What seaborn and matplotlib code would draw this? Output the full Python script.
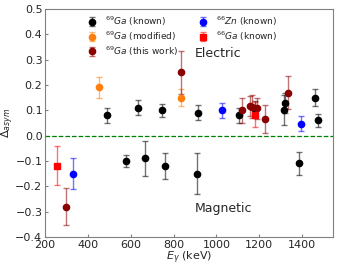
import matplotlib
matplotlib.use("Agg")
import matplotlib.pyplot as plt
import seaborn as sns

# 69Ga (known)
gaKnownE = [488, 633, 744, 912, 1107, 1180, 1316, 1321, 1460, 1474, 576, 668, 761, 911, 1386]
gaKnownA = [0.08, 0.11, 0.10, 0.09, 0.08, 0.106, 0.10, 0.13, 0.15, 0.06, -0.10, -0.09, -0.12, -0.15, -0.11]
gaKnownErr = [0.03, 0.03, 0.025, 0.03, 0.03, 0.03, 0.06, 0.04, 0.035, 0.025, 0.025, 0.07, 0.053, 0.08, 0.045]

# 69Ga (modified)
gaModE = [451, 833]
gaModA = [0.19, 0.15]
gaModErr = [0.04, 0.035]

# 69Ga (this work)
gaNewE = [298, 837, 1120, 1158, 1167, 1190, 1228, 1335]
gaNewA = [-0.28, 0.25, 0.10, 0.118, 0.114, 0.107, 0.067, 0.17]
gaNewErr = [0.072, 0.085, 0.05, 0.04, 0.045, 0.04, 0.055, 0.065]

# 66Zn (known)
znE = [332, 1028, 1395]
znA = [-0.15, 0.10, 0.047]
znErr = [0.06, 0.03, 0.03]

# 66Ga (known)
ga66E = [256, 1180]
ga66A = [-0.118, 0.082]
ga66Err = [0.077, 0.05]

sns.set_style("ticks")
plt.rcParams['font.family'] = ['DejaVu Sans']

fig = plt.figure(figsize=(3.37, 2.69), dpi=100)
ax = fig.add_axes([0.134, 0.119, 0.854, 0.848])

def plotSeries(x, y, err, color, marker, label):
    ax.errorbar(x, y, yerr=err, fmt=marker, color=color, ecolor=matplotlib.colors.to_rgba(color, 0.55),
                markersize=4.5, capsize=2.5, elinewidth=1, capthick=1, label=label, zorder=3)

plotSeries(gaKnownE, gaKnownA, gaKnownErr, 'black', 'o', r'$^{69}$$\it{Ga}$ (known)')
plotSeries(gaModE, gaModA, gaModErr, '#ff7f0e', 'o', r'$^{69}$$\it{Ga}$ (modified)')
plotSeries(gaNewE, gaNewA, gaNewErr, '#8b0000', 'o', r'$^{69}$$\it{Ga}$ (this work)')
plotSeries(znE, znA, znErr, 'blue', 'o', r'$^{66}$$\it{Zn}$ (known)')
plotSeries(ga66E, ga66A, ga66Err, 'red', 's', r'$^{66}$$\it{Ga}$ (known)')

ax.axhline(0, color='green', linestyle='--', linewidth=0.9)

ax.text(900, 0.31, 'Electric', fontsize=9)
ax.text(900, -0.30, 'Magnetic', fontsize=9)

ax.set_xlim(200, 1545)
ax.set_ylim(-0.4, 0.5)
ax.set_xticks([200, 400, 600, 800, 1000, 1200, 1400])
ax.set_yticks([-0.4, -0.3, -0.2, -0.1, 0.0, 0.1, 0.2, 0.3, 0.4, 0.5])
ax.set_xlabel(r'$E_\gamma$ (keV)', fontsize=8, labelpad=0)
ax.set_ylabel(r'$\Delta_{asym}$', fontsize=8)
ax.yaxis.set_label_coords(-0.1, 0.5)
ax.tick_params(direction='in', labelsize=8, length=2, color='gray', pad=2)
for s in ax.spines.values():
    s.set_color('gray')
    s.set_linewidth(0.8)

ax.legend(loc='upper left', bbox_to_anchor=(0.12, 1.01), ncol=2, frameon=False, fontsize=6.5,
          handlelength=1.0, handletextpad=0.9, columnspacing=2.3, labelspacing=0.15)

fig.savefig('out.png', dpi=100)
